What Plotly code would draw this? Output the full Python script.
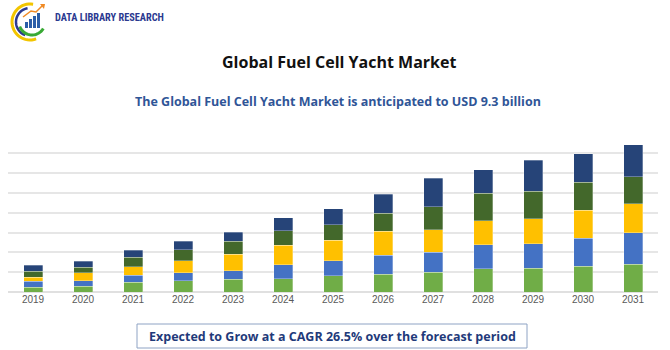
import plotly.graph_objects as go
import math

years = ["2019","2020","2021","2022","2023","2024","2025","2026","2027","2028","2029","2030","2031"]
seg1 = [0.25,0.30,0.50,0.57,0.64,0.67,0.81,0.89,0.99,1.17,1.21,1.29,1.41]
seg2 = [0.29,0.27,0.35,0.40,0.44,0.70,0.77,0.96,1.01,1.21,1.22,1.41,1.59]
seg3 = [0.20,0.40,0.42,0.60,0.82,0.99,1.02,1.22,1.14,1.21,1.26,1.43,1.44]
seg4 = [0.30,0.29,0.49,0.55,0.67,0.72,0.79,0.89,1.16,1.39,1.38,1.41,1.38]
seg5 = [0.30,0.29,0.35,0.44,0.44,0.67,0.81,0.96,1.44,1.19,1.58,1.43,1.61]
colors = ["#70AD47","#4472C4","#FFC000","#43682B","#264478"]

W, H = 670, 350
L, R, T, B = 8, 12, 133, 58
PW, PH = W - L - R, H - T - B

def px(x):
    return (x - L) / PW

def py(y):
    return (H - B - y) / PH

fig = go.Figure()
for s, c in zip([seg1, seg2, seg3, seg4, seg5], colors):
    fig.add_trace(go.Bar(x=years, y=s, marker=dict(color=c, line=dict(color="rgba(255,255,255,0.6)", width=0.5)), showlegend=False))

fig.update_layout(
    width=W, height=H, barmode="stack", bargap=0.62,
    margin=dict(l=L, r=R, t=T, b=B),
    plot_bgcolor="white", paper_bgcolor="white",
    xaxis=dict(showgrid=False, tickfont=dict(family="Liberation Sans, Arial", size=10, color="#595959"), ticks="", showline=False),
    yaxis=dict(range=[0, 8.02], dtick=1, showticklabels=False, gridcolor="#E6E6E6", gridwidth=1.8,
               zeroline=True, zerolinecolor="#E0E0E0", zerolinewidth=1.8),
)

anns = []
anns.append(dict(text="<b>Global Fuel Cell Yacht Market</b>", x=px(339), y=py(62), xref="paper", yref="paper",
                 showarrow=False, font=dict(family="Open Sans", size=16, color="#111111"), xanchor="center", yanchor="middle"))
anns.append(dict(text="<b>The Global Fuel Cell Yacht Market is anticipated to USD 9.3 billion</b>", x=px(338), y=py(101),
                 xref="paper", yref="paper", showarrow=False, font=dict(family="Open Sans", size=12.5, color="#2F5597"),
                 xanchor="center", yanchor="middle"))
anns.append(dict(text="<b>Expected to Grow at a CAGR 26.5% over the forecast period</b>", x=px(332), y=py(336),
                 xref="paper", yref="paper", showarrow=False, font=dict(family="Open Sans", size=12.5, color="#1F3A7A"),
                 xanchor="center", yanchor="middle"))
anns.append(dict(text="<b>DATA LIBRARY RESEARCH</b>", x=px(53), y=py(18), xref="paper", yref="paper", showarrow=False,
                 font=dict(family="Roboto Condensed, Liberation Sans Narrow, Roboto", size=10.3, color="#2B3990"),
                 xanchor="left", yanchor="middle"))
fig.update_layout(annotations=anns)

shapes = []
shapes.append(dict(type="rect", xref="paper", yref="paper", x0=px(137), x1=px(527), y0=py(324), y1=py(348),
                   line=dict(color="#8EA3C4", width=1), fillcolor="rgba(0,0,0,0)"))

def arc(cx, cy, r, a0, a1, n=30):
    pts = []
    for i in range(n + 1):
        a = math.radians(a0 + (a1 - a0) * i / n)
        pts.append((px(cx + r * math.cos(a)), py(cy - r * math.sin(a))))
    return "M " + " L ".join(f"{x:.5f},{y:.5f}" for x, y in pts)

shapes.append(dict(type="path", xref="paper", yref="paper", path=arc(30, 22, 18, 80, 290), line=dict(color="#F2C500", width=3)))
shapes.append(dict(type="path", xref="paper", yref="paper", path=arc(30, 22, 14, 100, 250), line=dict(color="#2B3990", width=2.5)))
shapes.append(dict(type="path", xref="paper", yref="paper", path=arc(32, 22, 13, 200, 330), line=dict(color="#39A935", width=3)))
for i, hgt in enumerate([6, 9, 12, 15]):
    x0 = 25 + i * 4
    shapes.append(dict(type="rect", xref="paper", yref="paper", x0=px(x0), x1=px(x0 + 3), y0=py(28), y1=py(28 - hgt),
                       line=dict(width=0), fillcolor="#2B5DA8"))
shapes.append(dict(type="path", xref="paper", yref="paper",
                   path=f"M {px(23):.5f},{py(17):.5f} L {px(31):.5f},{py(11):.5f} L {px(36):.5f},{py(12):.5f} L {px(43):.5f},{py(5):.5f}",
                   line=dict(color="#F08A24", width=1.5)))
shapes.append(dict(type="path", xref="paper", yref="paper",
                   path=f"M {px(40):.5f},{py(4):.5f} L {px(45):.5f},{py(4):.5f} L {px(44):.5f},{py(9):.5f} Z",
                   fillcolor="#F08A24", line=dict(width=0)))
fig.update_layout(shapes=shapes)

fig.write_html("out.html")
